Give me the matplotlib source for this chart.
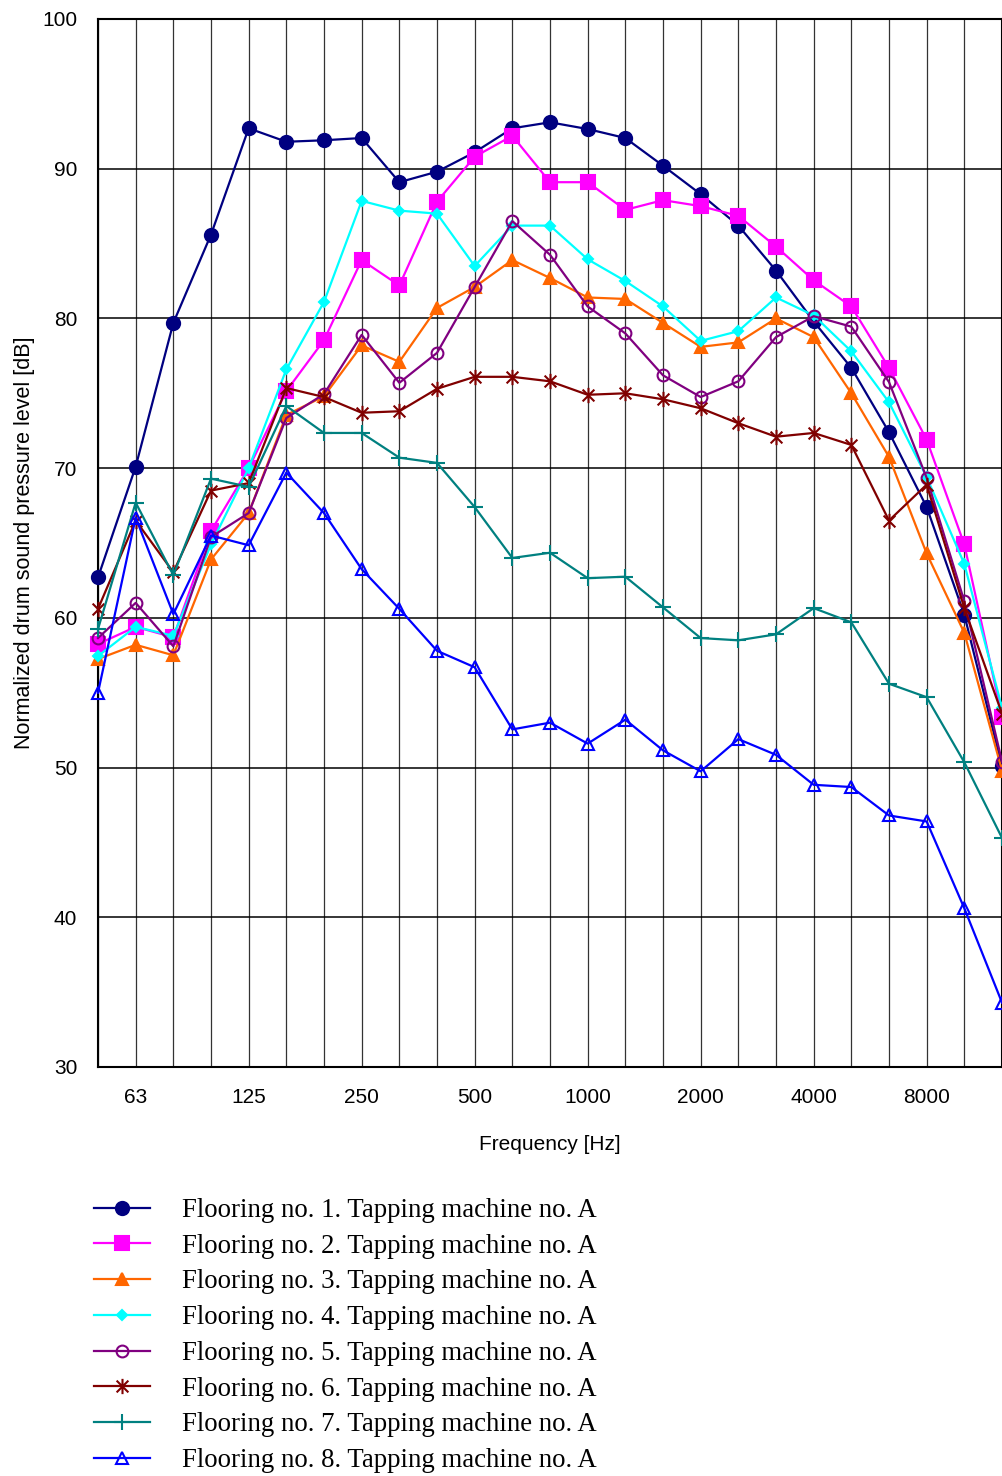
import numpy as np
import matplotlib.pyplot as plt
from matplotlib.path import Path

# 1/3 octave bands 50 Hz .. 12500 Hz
bands = [50, 63, 80, 100, 125, 160, 200, 250, 315, 400, 500, 630, 800,
         1000, 1250, 1600, 2000, 2500, 3150, 4000, 5000, 6300, 8000, 10000, 12500]
shown_ticks = [63, 125, 250, 500, 1000, 2000, 4000, 8000]

flooring1 = [62.7, 70.1, 79.7, 85.6, 92.7, 91.8, 91.9, 92.05, 89.1, 89.8, 91.1, 92.7, 93.1,
             92.65, 92.05, 90.2, 88.3, 86.2, 83.2, 79.8, 76.7, 72.4, 67.4, 60.2, 50.1]
flooring2 = [58.25, 59.4, 58.7, 65.8, 70.0, 75.15, 78.55, 83.9, 82.2, 87.8, 90.8, 92.2, 89.1,
             89.1, 87.25, 87.9, 87.5, 86.85, 84.8, 82.55, 80.8, 76.7, 71.9, 64.9, 53.4]
flooring3 = [57.25, 58.2, 57.5, 63.9, 67.0, 73.55, 74.8, 78.2, 77.1, 80.7, 82.1, 83.9, 82.7,
             81.4, 81.3, 79.7, 78.1, 78.4, 80.0, 78.75, 75.0, 70.75, 64.3, 59.0, 49.8]
flooring4 = [57.45, 59.4, 58.8, 64.9, 70.0, 76.6, 81.1, 87.85, 87.2, 87.0, 83.5, 86.2, 86.2,
             83.95, 82.5, 80.8, 78.5, 79.15, 81.4, 80.2, 77.8, 74.4, 69.4, 63.6, 54.0]
flooring5 = [58.65, 61.0, 58.1, 65.4, 67.0, 73.35, 74.95, 78.9, 75.7, 77.7, 82.1, 86.5, 84.25,
             80.8, 79.0, 76.2, 74.75, 75.8, 78.75, 80.15, 79.45, 75.75, 69.35, 61.1, 50.4]
flooring6 = [60.6, 66.5, 63.05, 68.5, 69.0, 75.35, 74.75, 73.7, 73.8, 75.3, 76.1, 76.1, 75.8,
             74.9, 75.0, 74.6, 74.0, 73.0, 72.1, 72.35, 71.55, 66.5, 68.9, 60.65, 53.6]
flooring7 = [59.25, 67.7, 62.85, 69.3, 68.75, 74.15, 72.35, 72.35, 70.7, 70.35, 67.4, 64.0, 64.35,
             62.65, 62.75, 60.7, 58.65, 58.5, 58.9, 60.65, 59.7, 55.6, 54.7, 50.35, 45.3]
flooring8 = [55.0, 66.7, 60.25, 65.5, 64.85, 69.7, 67.0, 63.25, 60.6, 57.8, 56.7, 52.55, 53.0,
             51.6, 53.2, 51.15, 49.75, 51.9, 50.85, 48.85, 48.7, 46.8, 46.4, 40.6, 34.3]

# asterisk marker (x plus vertical bar)
star = Path([(-1, -1), (1, 1), (-1, 1), (1, -1), (0, -1.3), (0, 1.3)],
            [Path.MOVETO, Path.LINETO, Path.MOVETO, Path.LINETO, Path.MOVETO, Path.LINETO])

series = [
    (flooring1, '#000080', 'o', 9.5, '#000080'),
    (flooring2, '#FF00FF', 's', 9.5, '#FF00FF'),
    (flooring3, '#FF6600', '^', 8.5, '#FF6600'),
    (flooring4, '#00FFFF', 'D', 5.5, '#00FFFF'),
    (flooring5, '#800080', 'o', 8.5, 'none'),
    (flooring6, '#800000', star, 11, 'none'),
    (flooring7, '#008080', '+', 11, 'none'),
    (flooring8, '#0000FF', '^', 9, 'none'),
]

plt.rcParams['font.family'] = 'Liberation Sans'
fig = plt.figure(figsize=(10.02, 14.76), dpi=100)
ax = fig.add_axes([98 / 1002, 409 / 1476, 904 / 1002, 1048 / 1476])

x = np.arange(len(bands))
for i, (vals, col, mk, ms, fc) in enumerate(series):
    ax.plot(x, vals, color=col, linewidth=1.6, marker=mk, markersize=ms,
            markerfacecolor=fc, markeredgecolor=col, markeredgewidth=1.5,
            label='Flooring no. %d. Tapping machine no. A' % (i + 1), clip_on=False, zorder=3)

ax.set_xlim(0, len(bands) - 1)
ax.set_ylim(30, 100)
ax.set_yticks(range(30, 101, 10))
ax.set_xticks(x, minor=True)
ax.set_xticks([bands.index(b) for b in shown_ticks])
ax.set_xticklabels([str(b) for b in shown_ticks])
ax.grid(axis='x', which='both', color='#333333', linewidth=0.9)
ax.grid(axis='y', which='major', color='black', linewidth=1.1)
ax.tick_params(axis='both', which='both', length=0, labelsize=15)
ax.tick_params(axis='y', pad=15)
ax.tick_params(axis='x', pad=15)
for s in ax.spines.values():
    s.set_linewidth(1.5)

ax.set_xlabel('Frequency [Hz]', fontsize=15, labelpad=20)
ax.set_ylabel('Normalized drum sound pressure level [dB]', fontsize=15.5, labelpad=5)

fig.legend(loc='upper left', bbox_to_anchor=(94 / 1002, 1 - 1198 / 1476), frameon=False,
           prop={'family': 'Liberation Serif', 'size': 19.3}, handlelength=2.1,
           handletextpad=1.2, labelspacing=0.40, borderpad=0, borderaxespad=0)

plt.savefig('out.png', dpi=100)
